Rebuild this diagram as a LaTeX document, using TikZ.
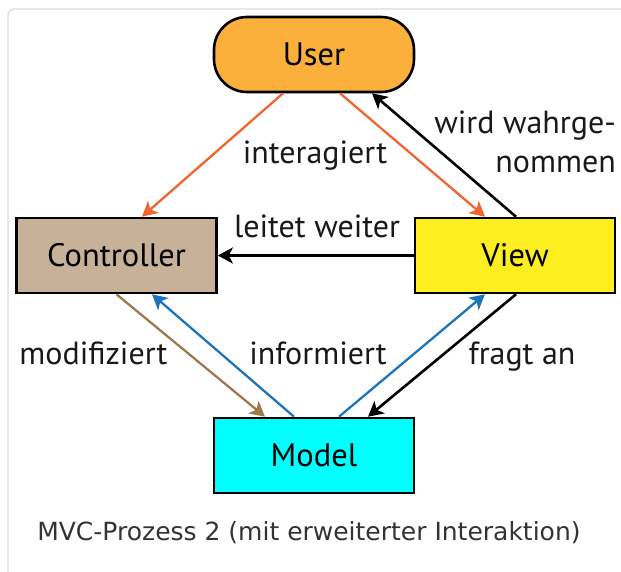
\documentclass[tikz,border=0pt]{standalone}
\usepackage{fontspec}
\setmainfont{PT Sans}
\newfontfamily\capfont{DejaVu Sans}
\usetikzlibrary{arrows.meta}

\definecolor{framegray}{HTML}{DADADA}
\definecolor{userfill}{HTML}{FBB03B}
\definecolor{ctrlfill}{HTML}{C7B299}
\definecolor{viewfill}{HTML}{FCEE21}
\definecolor{modelfill}{HTML}{00FFFF}
\definecolor{arrorange}{HTML}{F26531}
\definecolor{arrbrown}{HTML}{A07850}
\definecolor{arrblue}{HTML}{1C75BC}
\definecolor{captext}{HTML}{333333}

\tikzset{
  box/.style={draw=black, line width=2.6pt, minimum width=200pt, minimum height=75pt,
              inner sep=0pt, font=\fontsize{32.5}{36}\selectfont},
  lbl/.style={anchor=base, inner sep=0pt, font=\fontsize{32}{36}\selectfont, text=black!90},
  tip/.style={-{Stealth[length=15pt,width=16pt,inset=4pt]}},
  flow/.style={tip, line width=2.3pt},
  bflow/.style={tip, line width=2.6pt, draw=black}
}

\begin{document}
\begin{tikzpicture}[x=1pt,y=-1pt]
  \useasboundingbox (0,0) rectangle (621,571);
  % caption frame, open to the right and bottom
  \draw[framegray, line width=1.3pt, rounded corners=6pt] (680,9) -- (8,9) -- (8,640);

  % the four participants
  \node[box, fill=userfill, rounded corners=33pt] (user) at (314,54.5) {User};
  \node[box, fill=ctrlfill] (ctrl) at (116.5,255.5) {Controller};
  \node[box, fill=viewfill] (view) at (515,255.5) {View};
  \node[box, fill=modelfill] (model) at (314,455.5) {Model};

  % user interaction
  \draw[flow, arrorange] ([xshift=-31pt]user.south) -- ([xshift=25.5pt]ctrl.north);
  \draw[flow, arrorange] ([xshift=26pt]user.south) -- ([xshift=-30pt]view.north);
  \draw[bflow] ([xshift=1pt]view.north) -- ([xshift=58pt]user.south);
  % view forwards to controller
  \draw[bflow] (view.west) -- (ctrl.east);
  % controller / model / view
  \draw[flow, arrbrown] (ctrl.south) -- ([xshift=-49pt]model.north);
  \draw[flow, arrblue] ([xshift=-20pt]model.north) -- ([xshift=35.5pt]ctrl.south);
  \draw[flow, arrblue] ([xshift=25pt]model.north) -- ([xshift=-30pt]view.south);
  \draw[bflow] ([xshift=1pt]view.south) -- ([xshift=54pt]model.north);

  % connector labels
  \node[lbl] (l1) at (315,163) {interagiert};
  \node[lbl, anchor=base east] (l2a) at (616,133) {wird wahrge-};
  \node[lbl, anchor=base east] (l2b) at (616,172) {nommen};
  \node[lbl] (l3) at (317,237) {leitet weiter};
  \node[lbl] (l4) at (93.5,364) {modifiziert};
  \node[lbl] (l5) at (318,364) {informiert};
  \node[lbl] (l6) at (522,364) {fragt an};

  % caption
  \node[anchor=base, inner sep=0pt, text=captext, font=\capfont\fontsize{25}{30}\selectfont]
    (cap) at (309,540) {MVC-Prozess 2 (mit erweiterter Interaktion)};
\end{tikzpicture}
\end{document}
